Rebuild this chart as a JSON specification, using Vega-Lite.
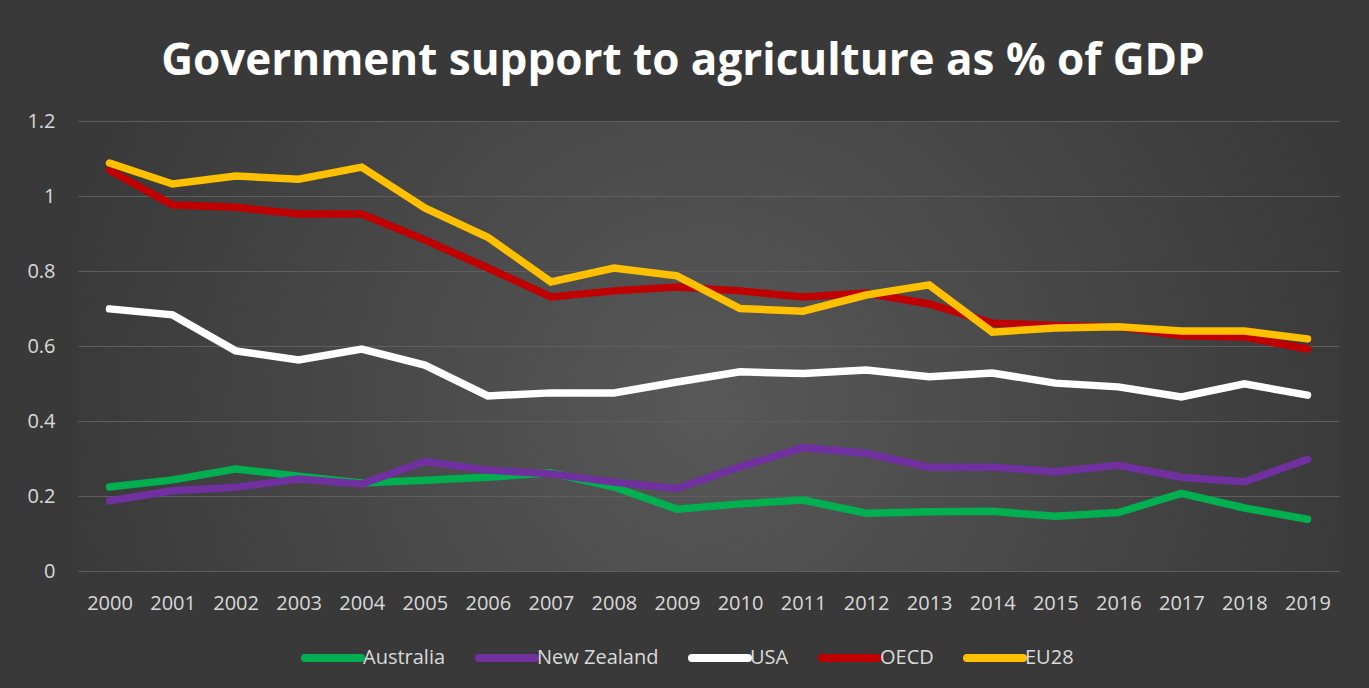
{
  "$schema": "https://vega.github.io/schema/vega-lite/v6.json",
  "width": 1261,
  "height": 450,
  "autosize": {"type": "none"},
  "padding": {"left": 78, "top": 121, "right": 30, "bottom": 117},
  "background": "#393939",
  "title": {
    "text": "Government support to agriculture as % of GDP",
    "font": "Open Sans",
    "fontSize": 44,
    "fontWeight": 700,
    "color": "#ffffff",
    "anchor": "middle",
    "frame": "bounds",
    "baseline": "alphabetic",
    "offset": -8
  },
  "data": {
    "values": [
      {"year": "2000", "series": "Australia", "value": 0.224},
      {"year": "2001", "series": "Australia", "value": 0.243},
      {"year": "2002", "series": "Australia", "value": 0.272},
      {"year": "2003", "series": "Australia", "value": 0.253},
      {"year": "2004", "series": "Australia", "value": 0.235},
      {"year": "2005", "series": "Australia", "value": 0.242},
      {"year": "2006", "series": "Australia", "value": 0.25},
      {"year": "2007", "series": "Australia", "value": 0.262},
      {"year": "2008", "series": "Australia", "value": 0.224},
      {"year": "2009", "series": "Australia", "value": 0.165},
      {"year": "2010", "series": "Australia", "value": 0.179},
      {"year": "2011", "series": "Australia", "value": 0.189},
      {"year": "2012", "series": "Australia", "value": 0.154},
      {"year": "2013", "series": "Australia", "value": 0.158},
      {"year": "2014", "series": "Australia", "value": 0.159},
      {"year": "2015", "series": "Australia", "value": 0.146},
      {"year": "2016", "series": "Australia", "value": 0.156},
      {"year": "2017", "series": "Australia", "value": 0.207},
      {"year": "2018", "series": "Australia", "value": 0.168},
      {"year": "2019", "series": "Australia", "value": 0.138},
      {"year": "2000", "series": "New Zealand", "value": 0.187},
      {"year": "2001", "series": "New Zealand", "value": 0.214},
      {"year": "2002", "series": "New Zealand", "value": 0.223},
      {"year": "2003", "series": "New Zealand", "value": 0.245},
      {"year": "2004", "series": "New Zealand", "value": 0.232},
      {"year": "2005", "series": "New Zealand", "value": 0.292},
      {"year": "2006", "series": "New Zealand", "value": 0.269},
      {"year": "2007", "series": "New Zealand", "value": 0.259},
      {"year": "2008", "series": "New Zealand", "value": 0.237},
      {"year": "2009", "series": "New Zealand", "value": 0.22},
      {"year": "2010", "series": "New Zealand", "value": 0.278},
      {"year": "2011", "series": "New Zealand", "value": 0.329},
      {"year": "2012", "series": "New Zealand", "value": 0.314},
      {"year": "2013", "series": "New Zealand", "value": 0.277},
      {"year": "2014", "series": "New Zealand", "value": 0.277},
      {"year": "2015", "series": "New Zealand", "value": 0.265},
      {"year": "2016", "series": "New Zealand", "value": 0.282},
      {"year": "2017", "series": "New Zealand", "value": 0.25},
      {"year": "2018", "series": "New Zealand", "value": 0.238},
      {"year": "2019", "series": "New Zealand", "value": 0.298},
      {"year": "2000", "series": "USA", "value": 0.699},
      {"year": "2001", "series": "USA", "value": 0.683},
      {"year": "2002", "series": "USA", "value": 0.587},
      {"year": "2003", "series": "USA", "value": 0.563},
      {"year": "2004", "series": "USA", "value": 0.592},
      {"year": "2005", "series": "USA", "value": 0.549},
      {"year": "2006", "series": "USA", "value": 0.467},
      {"year": "2007", "series": "USA", "value": 0.475},
      {"year": "2008", "series": "USA", "value": 0.475},
      {"year": "2009", "series": "USA", "value": 0.504},
      {"year": "2010", "series": "USA", "value": 0.531},
      {"year": "2011", "series": "USA", "value": 0.527},
      {"year": "2012", "series": "USA", "value": 0.536},
      {"year": "2013", "series": "USA", "value": 0.518},
      {"year": "2014", "series": "USA", "value": 0.528},
      {"year": "2015", "series": "USA", "value": 0.501},
      {"year": "2016", "series": "USA", "value": 0.491},
      {"year": "2017", "series": "USA", "value": 0.464},
      {"year": "2018", "series": "USA", "value": 0.499},
      {"year": "2019", "series": "USA", "value": 0.469},
      {"year": "2000", "series": "OECD", "value": 1.069},
      {"year": "2001", "series": "OECD", "value": 0.976},
      {"year": "2002", "series": "OECD", "value": 0.97},
      {"year": "2003", "series": "OECD", "value": 0.952},
      {"year": "2004", "series": "OECD", "value": 0.952},
      {"year": "2005", "series": "OECD", "value": 0.883},
      {"year": "2006", "series": "OECD", "value": 0.808},
      {"year": "2007", "series": "OECD", "value": 0.731},
      {"year": "2008", "series": "OECD", "value": 0.747},
      {"year": "2009", "series": "OECD", "value": 0.757},
      {"year": "2010", "series": "OECD", "value": 0.747},
      {"year": "2011", "series": "OECD", "value": 0.731},
      {"year": "2012", "series": "OECD", "value": 0.741},
      {"year": "2013", "series": "OECD", "value": 0.712},
      {"year": "2014", "series": "OECD", "value": 0.661},
      {"year": "2015", "series": "OECD", "value": 0.655},
      {"year": "2016", "series": "OECD", "value": 0.651},
      {"year": "2017", "series": "OECD", "value": 0.627},
      {"year": "2018", "series": "OECD", "value": 0.624},
      {"year": "2019", "series": "OECD", "value": 0.592},
      {"year": "2000", "series": "EU28", "value": 1.088},
      {"year": "2001", "series": "EU28", "value": 1.032},
      {"year": "2002", "series": "EU28", "value": 1.053},
      {"year": "2003", "series": "EU28", "value": 1.045},
      {"year": "2004", "series": "EU28", "value": 1.077},
      {"year": "2005", "series": "EU28", "value": 0.968},
      {"year": "2006", "series": "EU28", "value": 0.89},
      {"year": "2007", "series": "EU28", "value": 0.771},
      {"year": "2008", "series": "EU28", "value": 0.808},
      {"year": "2009", "series": "EU28", "value": 0.787},
      {"year": "2010", "series": "EU28", "value": 0.7},
      {"year": "2011", "series": "EU28", "value": 0.693},
      {"year": "2012", "series": "EU28", "value": 0.736},
      {"year": "2013", "series": "EU28", "value": 0.763},
      {"year": "2014", "series": "EU28", "value": 0.637},
      {"year": "2015", "series": "EU28", "value": 0.648},
      {"year": "2016", "series": "EU28", "value": 0.651},
      {"year": "2017", "series": "EU28", "value": 0.64},
      {"year": "2018", "series": "EU28", "value": 0.64},
      {"year": "2019", "series": "EU28", "value": 0.619}
    ]
  },
  "mark": {"type": "line", "strokeWidth": 7.5, "strokeCap": "round"},
  "encoding": {
    "x": {
      "field": "year",
      "type": "ordinal",
      "scale": {"type": "point", "padding": 0.5},
      "axis": {
        "title": null,
        "labelAngle": 0,
        "domain": false,
        "ticks": false,
        "grid": false,
        "labelPadding": 22,
        "labelFont": "Open Sans",
        "labelFontSize": 20,
        "labelColor": "#d9d9d9"
      }
    },
    "y": {
      "field": "value",
      "type": "quantitative",
      "scale": {"domain": [0, 1.2], "nice": false},
      "axis": {
        "title": null,
        "values": [0, 0.2, 0.4, 0.6, 0.8, 1, 1.2],
        "format": ".1~f",
        "domain": false,
        "ticks": false,
        "labelPadding": 23,
        "labelFont": "Open Sans",
        "labelFontSize": 20,
        "labelColor": "#d9d9d9",
        "gridColor": "#5e5e5e",
        "gridWidth": 1
      }
    },
    "color": {
      "field": "series",
      "type": "nominal",
      "sort": ["Australia", "New Zealand", "USA", "OECD", "EU28"],
      "scale": {
        "domain": ["Australia", "New Zealand", "USA", "OECD", "EU28"],
        "range": ["#00b050", "#7030a0", "#ffffff", "#c00000", "#ffc000"]
      },
      "legend": {
        "title": null,
        "orient": "none",
        "legendX": 223,
        "legendY": 505,
        "direction": "horizontal",
        "symbolType": "stroke",
        "symbolSize": 3136,
        "symbolStrokeWidth": 8,
        "labelFont": "Open Sans",
        "labelFontSize": 20,
        "labelColor": "#d9d9d9",
        "labelOffset": -2,
        "columnPadding": 17,
        "encode": {"symbols": {"update": {"strokeCap": {"value": "round"}}}}
      }
    }
  },
  "config": {
    "view": {
      "stroke": null,
      "fill": {
        "gradient": "radial",
        "x1": 0.5, "y1": 0.55, "r1": 0,
        "x2": 0.5, "y2": 0.55, "r2": 0.75,
        "stops": [
          {"offset": 0, "color": "#585858"},
          {"offset": 1, "color": "#2c2c2c"}
        ]
      }
    }
  }
}
